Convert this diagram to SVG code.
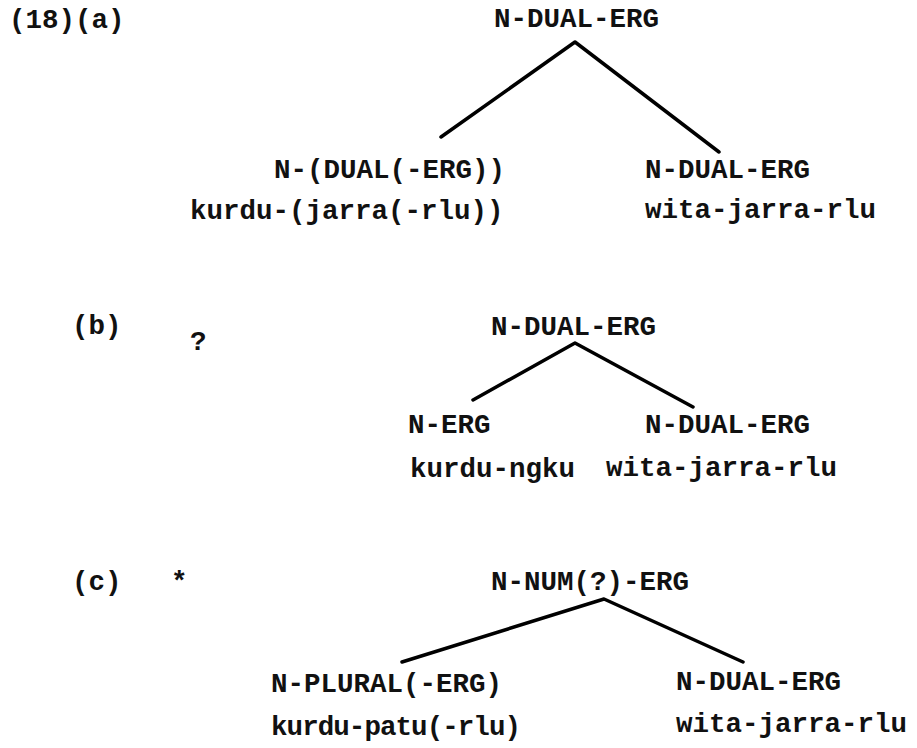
<svg xmlns="http://www.w3.org/2000/svg" width="917" height="748" viewBox="0 0 917 748">
<style>
text{font-family:"Liberation Mono","DejaVu Sans Mono",monospace;font-size:27.5px;font-weight:bold;fill:#111}
.e{stroke:#000;stroke-width:3.5;fill:none;stroke-linecap:round;stroke-linejoin:round}
</style>
<rect width="917" height="748" fill="#fff"/>
<g id="labels">
<text x="9" y="28">(18)(a)</text>
<text x="72" y="334">(b)</text>
<text x="190" y="350">?</text>
<text x="72" y="590">(c)</text>
<text x="171" y="590">*</text>
</g>
<g id="connectors">
<polyline class="e" points="441,137 575,42 719,152"/>
<polyline class="e" points="473,400 575,343 693,407"/>
<polyline class="e" points="402,662 604,599 743,662"/>
</g>
<g id="a-root"><text x="494" y="27">N-DUAL-ERG</text></g>
<g id="a-left"><text x="274" y="178">N-(DUAL(-ERG))</text><text x="190" y="219">kurdu-(jarra(-rlu))</text></g>
<g id="a-right"><text x="645" y="178">N-DUAL-ERG</text><text x="645" y="218">wita-jarra-rlu</text></g>
<g id="b-root"><text x="491" y="335">N-DUAL-ERG</text></g>
<g id="b-left"><text x="408" y="433">N-ERG</text><text x="410" y="477">kurdu-ngku</text></g>
<g id="b-right"><text x="645" y="433">N-DUAL-ERG</text><text x="606" y="476">wita-jarra-rlu</text></g>
<g id="c-root"><text x="491" y="590">N-NUM(?)-ERG</text></g>
<g id="c-left"><text x="271" y="692">N-PLURAL(-ERG)</text><text x="271" y="735" textLength="250" lengthAdjust="spacing">kurdu-patu(-rlu)</text></g>
<g id="c-right"><text x="676" y="690">N-DUAL-ERG</text><text x="676" y="732">wita-jarra-rlu</text></g>
</svg>
